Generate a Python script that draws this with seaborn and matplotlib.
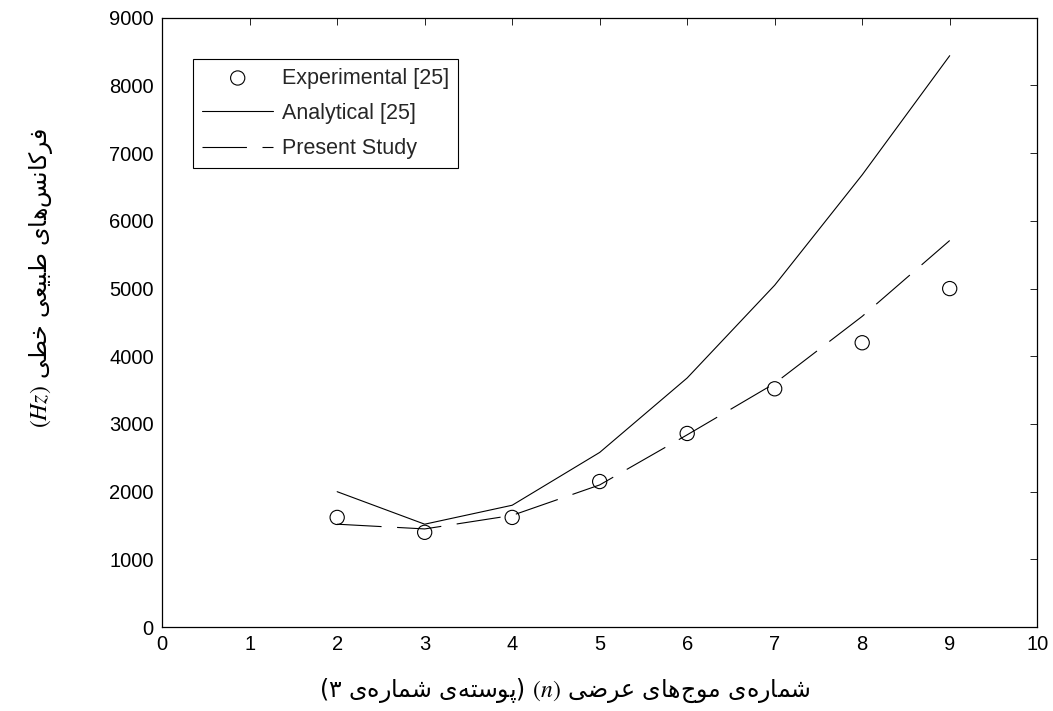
import matplotlib
matplotlib.use('Agg')
import matplotlib.pyplot as plt
import seaborn as sns

# data
n_modes = [2, 3, 4, 5, 6, 7, 8, 9]
experimental = [1620, 1400, 1620, 2150, 2860, 3520, 4200, 5000]
analytical = [2000, 1520, 1800, 2580, 3680, 5050, 6680, 8440]
present = [1520, 1450, 1650, 2100, 2840, 3600, 4590, 5710]

x_ticks = list(range(0, 11))
y_ticks = list(range(0, 9001, 1000))

# --- minimal persian shaping (matplotlib has no bidi / joining support) ---
DUAL = {
    'ش': '\uFEB5\uFEB6\uFEB7\uFEB8', 'م': '\uFEE1\uFEE2\uFEE3\uFEE4',
    'ه': '\uFEE9\uFEEA\uFEEB\uFEEC', 'ی': '\uFBFC\uFBFD\uFBFE\uFBFF',
    'ج': '\uFE9D\uFE9E\uFE9F\uFEA0', 'ع': '\uFEC9\uFECA\uFECB\uFECC',
    'ض': '\uFEBD\uFEBE\uFEBF\uFEC0', 'پ': '\uFB56\uFB57\uFB58\uFB59',
    'س': '\uFEB1\uFEB2\uFEB3\uFEB4', 'ت': '\uFE95\uFE96\uFE97\uFE98',
    'ف': '\uFED1\uFED2\uFED3\uFED4', 'ک': '\uFB8E\uFB8F\uFB90\uFB91',
    'ن': '\uFEE5\uFEE6\uFEE7\uFEE8', 'ط': '\uFEC1\uFEC2\uFEC3\uFEC4',
    'ب': '\uFE8F\uFE90\uFE91\uFE92', 'خ': '\uFEA5\uFEA6\uFEA7\uFEA8',
}
RIGHT = {'ا': '\uFE8D\uFE8E', 'ر': '\uFEAD\uFEAE', 'و': '\uFEED\uFEEE', 'د': '\uFEA9\uFEAA'}


def fa(text):
    out = []
    for i, ch in enumerate(text):
        if ch in DUAL or ch in RIGHT:
            prev = text[i - 1] if i > 0 else ''
            nxt = text[i + 1] if i + 1 < len(text) else ''
            jp = prev in DUAL
            jn = ch in DUAL and (nxt in DUAL or nxt in RIGHT)
            forms = DUAL.get(ch) or RIGHT[ch]
            if jp and jn:
                out.append(forms[3])
            elif jp:
                out.append(forms[1])
            elif jn:
                out.append(forms[2])
            else:
                out.append(forms[0])
        elif ch != '\u200c':
            out.append(ch)
    return ''.join(reversed(out))


x_label = '(' + fa('پوسته‌ی شماره‌ی ۳') + ') $(n)$ ' + fa('شماره‌ی موج‌های عرضی')
y_label = '$(Hz)$ ' + fa('فرکانس‌های طبیعی خطی')

sns.set_theme(style='white')
plt.rcParams['font.family'] = ['Liberation Sans', 'DejaVu Sans']
plt.rcParams['mathtext.fontset'] = 'stix'

fig = plt.figure(figsize=(10.53, 7.11), dpi=100)
ax = fig.add_axes([0.154, 0.118, 0.831, 0.857])

sns.lineplot(x=n_modes, y=analytical, color='black', lw=0.8, label='Analytical [25]', ax=ax)
sns.lineplot(x=n_modes, y=present, color='black', lw=0.8, linestyle=(0, (40, 14)),
             label='Present Study', ax=ax)
sns.scatterplot(x=n_modes, y=experimental, marker='o', s=105, color='none',
                edgecolor='black', linewidth=0.8, label='Experimental [25]', ax=ax, zorder=3)

ax.set_xlim(0, 10); ax.set_ylim(0, 9000)
ax.set_xticks(x_ticks); ax.set_yticks(y_ticks)
ax.tick_params(direction='in', length=5, width=0.6, top=True, right=True,
               labelsize=14.5, colors='black', pad=6)
for s in ax.spines.values():
    s.set_color('black'); s.set_linewidth(0.9)

ax.set_xlabel(x_label, fontsize=17, family='DejaVu Sans', color='black')
ax.set_ylabel(y_label, fontsize=17, family='DejaVu Sans', color='black')
ax.xaxis.set_label_coords(0.4606, -0.082)
ax.yaxis.set_label_coords(-0.122, 0.573)

h, l = ax.get_legend_handles_labels()
order = [l.index('Experimental [25]'), l.index('Analytical [25]'), l.index('Present Study')]
leg = ax.legend([h[i] for i in order], [l[i] for i in order], loc='upper left',
                bbox_to_anchor=(0.0354, 0.933), borderaxespad=0, fontsize=15.5,
                handlelength=3.3, handletextpad=0.42, labelspacing=0.66, borderpad=0.42,
                fancybox=False, framealpha=1, edgecolor='black')
leg.get_frame().set_linewidth(0.8)

fig.savefig('out.png', dpi=100)
